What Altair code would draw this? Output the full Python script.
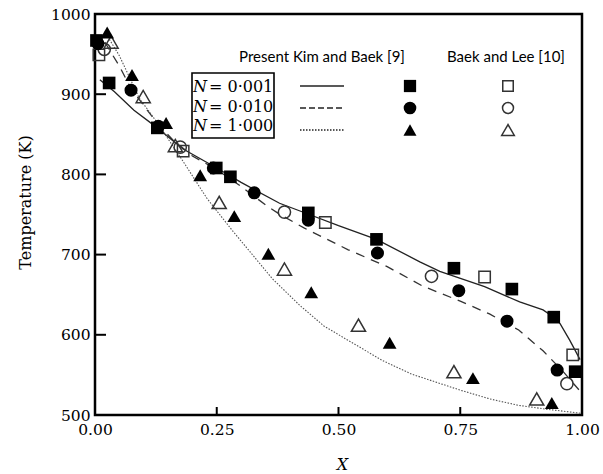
import altair as alt
import pandas as pd

# ---------------- data ----------------
# Present / Kim and Baek [9] symbols (filled)
kb_sq_x = [0.003, 0.029, 0.128, 0.249, 0.278, 0.438, 0.578, 0.737, 0.856, 0.942, 0.986]
kb_sq_t = [967, 914, 858, 808, 797, 752, 719, 683, 657, 622, 554]
kb_ci_x = [0.006, 0.074, 0.130, 0.243, 0.327, 0.438, 0.580, 0.747, 0.846, 0.949]
kb_ci_t = [963, 905, 860, 808, 777, 743, 702, 655, 617, 556]
kb_tr_x = [0.025, 0.076, 0.146, 0.216, 0.286, 0.356, 0.444, 0.605, 0.776, 0.938]
kb_tr_t = [977, 924, 864, 799, 748, 701, 653, 590, 546, 515]
# Baek and Lee [10] symbols (open)
bl_sq_x = [0.008, 0.181, 0.473, 0.800, 0.981]
bl_sq_t = [949, 829, 740, 672, 575]
bl_ci_x = [0.019, 0.175, 0.389, 0.691, 0.969]
bl_ci_t = [956, 834, 753, 673, 539]
bl_tr_x = [0.033, 0.099, 0.165, 0.255, 0.389, 0.541, 0.737, 0.907]
bl_tr_t = [965, 897, 836, 765, 682, 612, 554, 520]
# Present curves
n001_x = [0.01, 0.04, 0.08, 0.128, 0.18, 0.25, 0.30, 0.379, 0.44, 0.50, 0.578, 0.667, 0.708,
          0.80, 0.872, 0.92, 0.942, 0.955, 0.975, 0.996]
n001_t = [918, 903, 880, 858, 832, 808, 790, 764, 750, 736, 719, 691, 679,
          660, 641, 631, 622, 614, 593, 569]
n010_x = [0.02, 0.05, 0.074, 0.10, 0.13, 0.16, 0.20, 0.25, 0.30, 0.35, 0.38, 0.43, 0.52, 0.60,
          0.672, 0.75, 0.81, 0.87, 0.92, 0.96, 1.0]
n010_t = [965, 935, 907, 886, 862, 843, 823, 806, 785, 762, 750, 733, 706, 685,
          661, 642, 626, 606, 580, 555, 527]
n1_x = [0.02, 0.05, 0.091, 0.126, 0.179, 0.23, 0.282, 0.33, 0.364, 0.42, 0.47, 0.52, 0.59,
        0.65, 0.70, 0.75, 0.811, 0.87, 0.93, 1.0]
n1_t = [978, 948, 895, 866, 818, 770, 730, 695, 670, 637, 611, 593, 568,
        551, 541, 531, 520, 512, 507, 502]

x_ticks = [0.0, 0.25, 0.5, 0.75, 1.0]
y_ticks = [500, 600, 700, 800, 900, 1000]
x_title = "X"
y_title = "Temperature (K)"
header_present = "Present Kim and Baek [9]"
header_baek = "Baek and Lee [10]"
legend_values = ["0·001", "0·010", "1·000"]

# ---------------- layout ----------------
W, H = 487, 401
SERIF = "DejaVu Serif"
SANS = "Lato"

xs = alt.Scale(domain=[0, 1], nice=False, zero=False)
ys = alt.Scale(domain=[500, 1000], nice=False, zero=False)

x_axis = alt.Axis(values=x_ticks, format=".2f", title=x_title, grid=False, ticks=False,
                  tickSize=0, domain=False, labelFont=SERIF, labelFontSize=15.5,
                  labelColor="black", labelPadding=7, labelFlush=False,
                  titleFont=SERIF, titleFontSize=16, titleFontStyle="italic",
                  titleFontWeight="normal", titleColor="black", titleX=247, titleY=54,
                  titleAlign="center", titleBaseline="alphabetic")
y_axis = alt.Axis(values=y_ticks, format="d", title=y_title, grid=False, ticks=False,
                  tickSize=0, domain=False, labelFont=SERIF, labelFontSize=15.5,
                  labelColor="black", labelPadding=5, labelFlush=False,
                  titleFont=SERIF, titleFontSize=16, titleFontWeight="normal",
                  titleColor="black", titleX=-65, titleY=188, titleAlign="center",
                  titleBaseline="alphabetic")

XE = alt.X("X:Q", scale=xs, axis=x_axis)
YE = alt.Y("T:Q", scale=ys, axis=y_axis)


def df(xv, tv):
    return pd.DataFrame({"X": xv, "T": tv})


layers = []
# curves
layers.append(alt.Chart(df(n001_x, n001_t)).mark_line(color="#222", strokeWidth=1.3)
              .encode(x=XE, y=YE))
layers.append(alt.Chart(df(n010_x, n010_t)).mark_line(color="#333", strokeWidth=1.3,
                                                       strokeDash=[9, 7]).encode(x=XE, y=YE))
layers.append(alt.Chart(df(n1_x, n1_t)).mark_line(color="#555", strokeWidth=1.1,
                                                   strokeDash=[1.5, 1.5]).encode(x=XE, y=YE))

# open symbols
OPEN = dict(filled=False, color="#333", strokeWidth=1.5, opacity=1)
layers.append(alt.Chart(df(bl_sq_x, bl_sq_t)).mark_point(shape="square", size=130, **OPEN)
              .encode(x=XE, y=YE))
layers.append(alt.Chart(df(bl_ci_x, bl_ci_t)).mark_point(shape="circle", size=150, **OPEN)
              .encode(x=XE, y=YE))
layers.append(alt.Chart(df(bl_tr_x, bl_tr_t)).mark_point(shape="triangle-up", size=200, **OPEN)
              .encode(x=XE, y=YE))

# filled symbols
FILL = dict(filled=True, color="black", opacity=1)
layers.append(alt.Chart(df(kb_sq_x, kb_sq_t)).mark_point(shape="square", size=160, **FILL)
              .encode(x=XE, y=YE))
layers.append(alt.Chart(df(kb_ci_x, kb_ci_t)).mark_point(shape="circle", size=170, **FILL)
              .encode(x=XE, y=YE))
layers.append(alt.Chart(df(kb_tr_x, kb_tr_t)).mark_point(shape="triangle-up", size=190, **FILL)
              .encode(x=XE, y=YE))

# ticks (inward) drawn through the scales
layers.append(alt.Chart(pd.DataFrame({"X": x_ticks})).mark_rule(color="black", strokeWidth=2)
              .encode(x=XE, y=alt.value(H), y2=alt.value(H - 8)))
layers.append(alt.Chart(pd.DataFrame({"T": y_ticks})).mark_rule(color="black", strokeWidth=2)
              .encode(y=YE, x=alt.value(0), x2=alt.value(11)))

# ---------------- in-plot legend ----------------
one = pd.DataFrame({"a": [0]})


def text(s, x, y, font, size, style="normal", align="left"):
    return alt.Chart(pd.DataFrame({"t": [s]})).mark_text(
        align=align, baseline="middle", font=font, fontSize=size, fontStyle=style,
        color="black").encode(x=alt.value(x), y=alt.value(y), text="t:N")


layers.append(text(header_present, 227, 43, SANS, 15, align="center"))
layers.append(text(header_baek, 411, 43, SANS, 15, align="center"))
layers.append(alt.Chart(one).mark_rect(fillOpacity=0, stroke="black", strokeWidth=1.6)
              .encode(x=alt.value(97), x2=alt.value(179), y=alt.value(59), y2=alt.value(124)))

text_rows = [73, 93, 112]
sym_rows = [72, 94, 116]
for i, v in enumerate(legend_values):
    layers.append(text("N", 98, text_rows[i], SERIF, 16, style="italic"))
    layers.append(text("= " + v, 114, text_rows[i], SERIF, 16))

dashes = [None, [6, 3], [1.5, 1.5]]
for i in range(3):
    kw = dict(color="#222", strokeWidth=1.3)
    if dashes[i] is not None:
        kw["strokeDash"] = dashes[i]
    layers.append(alt.Chart(one).mark_rule(**kw).encode(
        x=alt.value(205), x2=alt.value(249), y=alt.value(sym_rows[i])))

shapes = ["square", "circle", "triangle-up"]
fsizes = [150, 160, 170]
osizes = [110, 120, 160]
for i in range(3):
    layers.append(alt.Chart(one).mark_point(shape=shapes[i], size=fsizes[i], **FILL)
                  .encode(x=alt.value(315), y=alt.value(sym_rows[i])))
    layers.append(alt.Chart(one).mark_point(shape=shapes[i], size=osizes[i], **OPEN)
                  .encode(x=alt.value(413), y=alt.value(sym_rows[i])))

chart = alt.layer(*layers).properties(
    width=W, height=H,
    autosize=alt.AutoSizeParams(type="none"),
    padding={"left": 95, "top": 14, "right": 21, "bottom": 59},
    background="white",
).configure_view(stroke="black", strokeWidth=2.5)

chart.save("out.html", embed_options={"renderer": "svg", "actions": False})
